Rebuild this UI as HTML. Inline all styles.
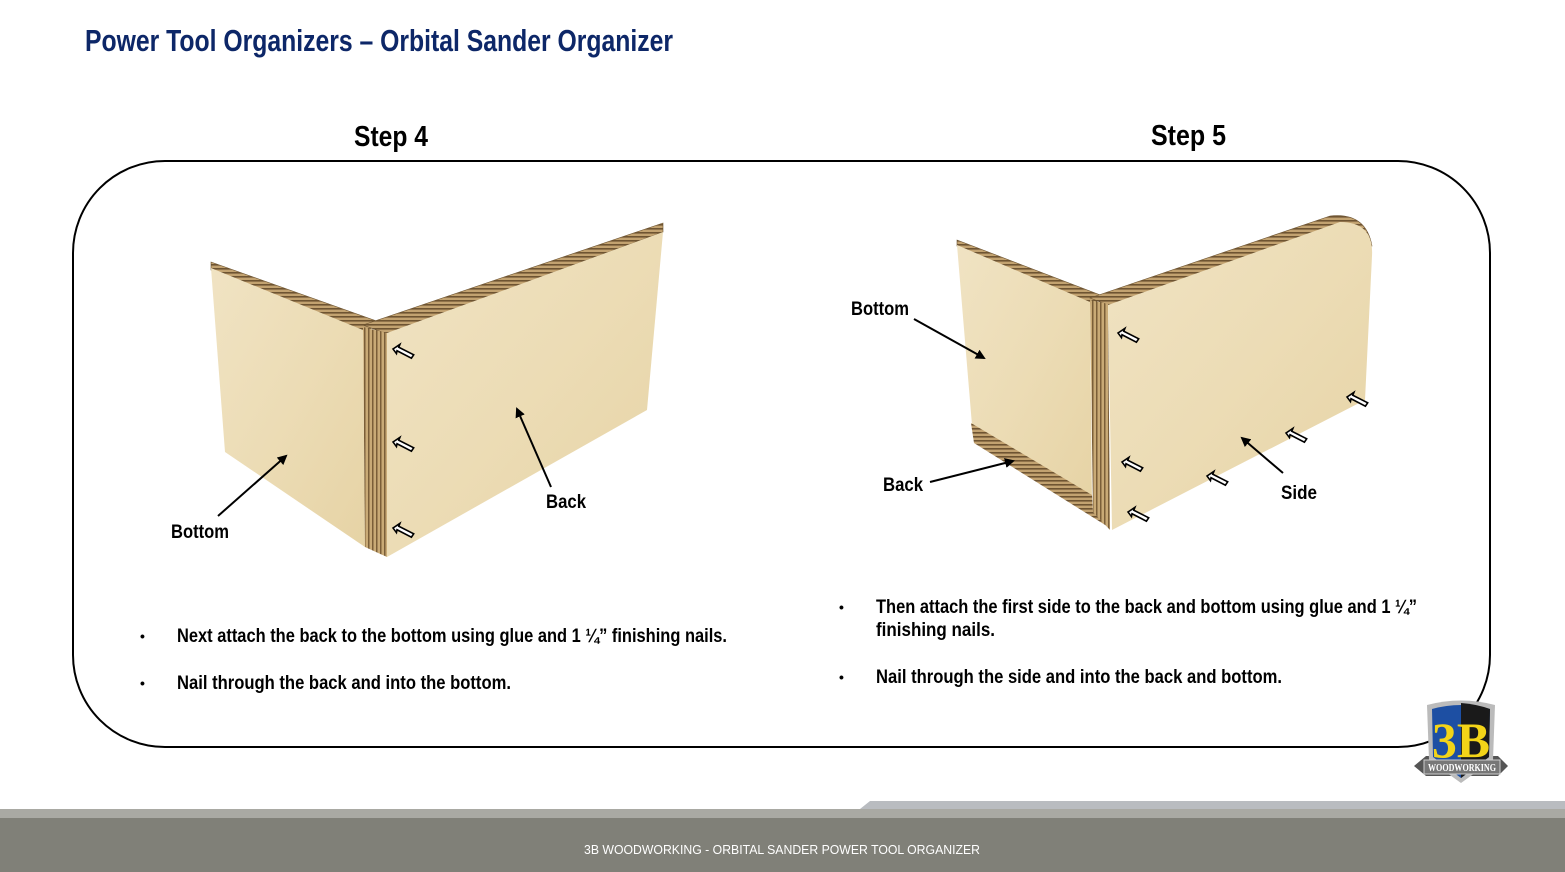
<!DOCTYPE html>
<html><head><meta charset="utf-8"><style>
html,body{margin:0;padding:0;background:#fff;}
svg{display:block;}
.c{font-family:"Liberation Sans Narrow","Liberation Sans",sans-serif;font-weight:bold;}
</style></head><body>
<svg width="1565" height="872" viewBox="0 0 1565 872" xmlns="http://www.w3.org/2000/svg">
<defs>
<linearGradient id="wood" x1="0" y1="0" x2="1" y2="1">
<stop offset="0" stop-color="#f0e3c3"/><stop offset="0.5" stop-color="#ecdcb5"/><stop offset="1" stop-color="#e6d3a5"/>
</linearGradient>
<pattern id="ply" width="4" height="4" patternUnits="userSpaceOnUse">
<rect width="4" height="4" fill="#c2a270"/><rect width="4" height="1.6" fill="#6e5432"/>
</pattern>
<pattern id="plyv" width="4" height="4" patternUnits="userSpaceOnUse">
<rect width="4" height="4" fill="#c9aa76"/><rect width="1.5" height="4" fill="#7a5e38"/>
</pattern>
<g id="nail"><path d="M0,0 L6,-4 L5,-1.5 L18,5 L16,8 L3.5,1.5 L3,4 Z" fill="#fff" stroke="#000" stroke-width="1.4" transform="scale(1.15)"/></g>
<marker id="ah" markerWidth="10" markerHeight="10" refX="8" refY="5" orient="auto" markerUnits="userSpaceOnUse"><path d="M0,0 L10,5 L0,10 Z" fill="#000"/></marker>
</defs>

<text x="85" y="51" class="c" font-size="31" fill="#0d2768" textLength="588" lengthAdjust="spacingAndGlyphs">Power Tool Organizers – Orbital Sander Organizer</text>
<text x="354" y="146" class="c" font-size="29" fill="#000" textLength="74" lengthAdjust="spacingAndGlyphs">Step 4</text>
<text x="1151" y="145" class="c" font-size="29" fill="#000" textLength="75" lengthAdjust="spacingAndGlyphs">Step 5</text>

<rect x="73" y="161" width="1417" height="586" rx="92" ry="92" fill="none" stroke="#000" stroke-width="2"/>

<!-- Left drawing -->
<polygon points="211,262 385,324 363,331 211,270" fill="url(#ply)" stroke="#6b5230" stroke-width="0.6"/>
<polygon points="211,268 363,330 365,547 225,452" fill="url(#wood)"/>
<polygon points="363,325 663,223 663,232 387,334" fill="url(#ply)" stroke="#6b5230" stroke-width="0.6"/>
<polygon points="363,327 387,333 387,557 365,547" fill="url(#plyv)"/>
<polygon points="387,333 663,232 647,410 387,557" fill="url(#wood)"/>
<use href="#nail" transform="translate(393,349)"/>
<use href="#nail" transform="translate(393,442)"/>
<use href="#nail" transform="translate(393,528)"/>
<line x1="218" y1="516" x2="286" y2="456" stroke="#000" stroke-width="2" marker-end="url(#ah)"/>
<line x1="551" y1="487" x2="517" y2="409" stroke="#000" stroke-width="2" marker-end="url(#ah)"/>
<text x="171" y="538" class="c" font-size="19" textLength="58" lengthAdjust="spacingAndGlyphs">Bottom</text>
<text x="546" y="508" class="c" font-size="19" textLength="40" lengthAdjust="spacingAndGlyphs">Back</text>

<!-- Right drawing -->
<polygon points="957,240 1108,298 1090,303 957,246" fill="url(#ply)" stroke="#6b5230" stroke-width="0.6"/>
<polygon points="957,245 1090,302 1092,505 972,425" fill="url(#wood)"/>
<polygon points="971,423 1092,495 1093,512 974,443" fill="url(#ply)"/>
<polygon points="974,443 1093,510 1110,528" fill="url(#ply)"/>
<path d="M1090,298 L1330,216 Q1366,212 1372,246 L1108,305 Z" fill="url(#ply)" stroke="#6b5230" stroke-width="0.6"/>
<polygon points="1090,300 1108,304 1110,530 1093,512" fill="url(#plyv)"/>
<path d="M1108,305 L1340,222 Q1374,222 1372,256 L1365,400 L1112,530 Z" fill="url(#wood)"/>
<use href="#nail" transform="translate(1118,333)"/>
<use href="#nail" transform="translate(1122,462)"/>
<use href="#nail" transform="translate(1128,512)"/>
<use href="#nail" transform="translate(1207,476)"/>
<use href="#nail" transform="translate(1286,433)"/>
<use href="#nail" transform="translate(1347,397)"/>
<line x1="914" y1="319" x2="984" y2="358" stroke="#000" stroke-width="2" marker-end="url(#ah)"/>
<line x1="930" y1="482" x2="1013" y2="461" stroke="#000" stroke-width="2" marker-end="url(#ah)"/>
<line x1="1283" y1="473" x2="1242" y2="438" stroke="#000" stroke-width="2" marker-end="url(#ah)"/>
<text x="851" y="315" class="c" font-size="19" textLength="58" lengthAdjust="spacingAndGlyphs">Bottom</text>
<text x="883" y="491" class="c" font-size="19" textLength="40" lengthAdjust="spacingAndGlyphs">Back</text>
<text x="1281" y="499" class="c" font-size="19" textLength="36" lengthAdjust="spacingAndGlyphs">Side</text>

<!-- Bullets -->
<g class="c" font-size="19" fill="#000">
<text x="140" y="641" font-size="14">•</text>
<text x="177" y="642" textLength="550" lengthAdjust="spacingAndGlyphs">Next attach the back to the bottom using glue and 1 ¼” finishing nails.</text>
<text x="140" y="688" font-size="14">•</text>
<text x="177" y="689" textLength="334" lengthAdjust="spacingAndGlyphs">Nail through the back and into the bottom.</text>
<text x="839" y="612" font-size="14">•</text>
<text x="876" y="613" textLength="541" lengthAdjust="spacingAndGlyphs">Then attach the first side to the back and bottom using glue and 1 ¼”</text>
<text x="876" y="636" textLength="119" lengthAdjust="spacingAndGlyphs">finishing nails.</text>
<text x="839" y="682" font-size="14">•</text>
<text x="876" y="683" textLength="406" lengthAdjust="spacingAndGlyphs">Nail through the side and into the back and bottom.</text>
</g>

<!-- Logo -->
<g>
<polygon points="1414,766 1426,756 1498,756 1508,766 1498,776 1426,776" fill="#555"/>
<path d="M1427,705 Q1461,696 1495,705 L1493,760 L1461,783 L1429,760 Z" fill="#bbb"/>
<path d="M1432,709 Q1461,701 1490,709 L1489,757 L1461,778 L1433,757 Z" fill="#1d4fa3"/>
<path d="M1461,703 Q1476,704 1490,709 L1489,757 L1461,778 Z" fill="#1a1a1a"/>
<text x="1461" y="757" text-anchor="middle" font-family="Liberation Serif,serif" font-weight="bold" font-size="50" fill="#f3d418" textLength="58" lengthAdjust="spacingAndGlyphs">3B</text>
<rect x="1424" y="760" width="76" height="14" fill="#777" stroke="#ccc" stroke-width="1"/>
<text x="1462" y="771" text-anchor="middle" font-family="Liberation Serif,serif" font-weight="bold" font-size="10" fill="#fff" textLength="68" lengthAdjust="spacingAndGlyphs">WOODWORKING</text>
</g>

<!-- Footer -->
<polygon points="860,809 870,801 1565,801 1565,809" fill="#b9bcc0"/>
<rect x="0" y="809" width="1565" height="9" fill="#a9a9a3"/>
<rect x="0" y="818" width="1565" height="54" fill="#808078"/>
<text x="782" y="854" text-anchor="middle" font-family="Liberation Sans,sans-serif" font-size="13" fill="#fff" textLength="396" lengthAdjust="spacingAndGlyphs">3B WOODWORKING - ORBITAL SANDER POWER TOOL ORGANIZER</text>
</svg>
</body></html>
